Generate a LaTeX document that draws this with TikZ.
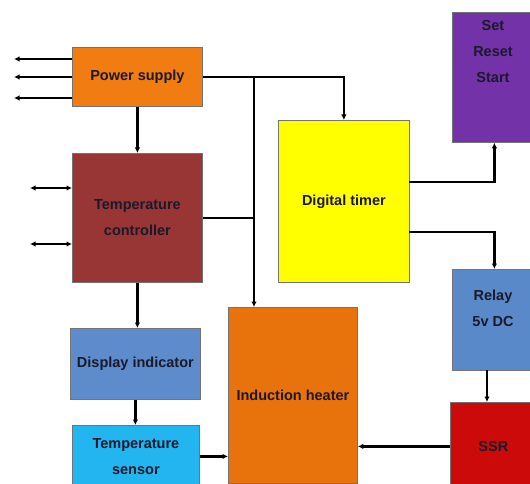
\documentclass[tikz,border=0pt]{standalone}
\usepackage{fontspec}
\setmainfont{Liberation Sans}
\usetikzlibrary{arrows.meta}
\definecolor{psorange}{HTML}{F07C12}
\definecolor{tcred}{HTML}{983636}
\definecolor{diblue}{HTML}{5E8BCB}
\definecolor{tscyan}{HTML}{22B5F0}
\definecolor{ihorange}{HTML}{E8720C}
\definecolor{dtyellow}{HTML}{FFFF00}
\definecolor{srspurple}{HTML}{7332A8}
\definecolor{relayblue}{HTML}{5A89C9}
\definecolor{ssrred}{HTML}{CC0A0A}
\definecolor{txt}{HTML}{1A1A2A}
\begin{document}
\begin{tikzpicture}[x=1pt,y=-1pt,
  box/.style={draw=black!55, line width=0.8pt, anchor=north west, inner sep=0pt,
    font=\fontsize{14.5}{26}\selectfont\bfseries, text=txt, align=center},
  lbl/.style={inner sep=0pt, font=\fontsize{14.5}{26}\selectfont\bfseries, text=txt, align=center},
  conn/.style={line width=2.2pt, -{Latex[length=5.5pt,width=5.5pt]}},
  dconn/.style={line width=2.2pt, {Latex[length=5.5pt,width=5.5pt]}-{Latex[length=5.5pt,width=5.5pt]}},
  plain/.style={line width=2.2pt}]
\useasboundingbox (0,0) rectangle (530,484);
\clip (0,0) rectangle (530,484);
\fill[white] (0,0) rectangle (530,484);

\node[box, fill=psorange, minimum width=130pt, minimum height=59pt] (ps) at (72,47) {Power supply};
\node[box, fill=tcred, minimum width=130pt, minimum height=129pt] (tc) at (72,153) {Temperature\\controller};
\node[box, fill=diblue, minimum width=130pt, minimum height=71pt] (di) at (70,328) {Display indicator};
\node[box, fill=tscyan, minimum width=127pt, minimum height=62pt] (ts) at (72,425) {Temperature\\sensor};
\node[box, fill=ihorange, minimum width=129pt, minimum height=176pt] (ih) at (228,307) {Induction heater};
\node[box, fill=dtyellow, minimum width=131pt, minimum height=162pt] (dt) at (278,120) {Digital timer};
\node[box, fill=srspurple, minimum width=84pt, minimum height=130pt] (srs) at (452,12) {};
\node[lbl] (srst) at (493,52) {Set\\Reset\\Start};
\node[box, fill=relayblue, minimum width=84pt, minimum height=101pt] (relay) at (452,269) {};
\node[lbl] (relayt) at (493,308) {Relay\\5v DC};
\node[box, fill=ssrred, minimum width=86pt, minimum height=88pt] (ssr) at (450,402) {SSR};

\coordinate (p1) at (14,59);
\coordinate (p2) at (14,77);
\coordinate (p3) at (14,98);
\coordinate (t1) at (30,188);
\coordinate (t2) at (30,244);
\coordinate (j) at (254,76.5);
\coordinate (a) at (409,182);
\coordinate (b) at (409,232);
\coordinate (r) at (487,370);

\draw[conn] (ps.west |- p1) -- (p1);
\draw[conn] (ps.west |- p2) -- (p2);
\draw[conn] (ps.west |- p3) -- (p3);
\draw[dconn] (tc.west |- t1) -- (t1);
\draw[dconn] (tc.west |- t2) -- (t2);

\draw[conn] (ps.east) -| (dt.north);
\draw[conn] (j) -- (j |- ih.north);
\draw[plain] (tc.east) -- (tc.east -| j);
\draw[conn] (ps.south) -- (tc.north);
\draw[conn] (tc.south) -- (tc.south |- di.north);
\draw[conn] (di.south) -- (di.south |- ts.north);
\draw[conn] (ts.east) -- (ts.east -| ih.west);
\draw[conn] (ssr.west) -- (ssr.west -| ih.east);
\draw[conn] (r) -- (r |- ssr.north);
\draw[conn] (a) -| (srs.south);
\draw[conn] (b) -| (relay.north);
\end{tikzpicture}
\end{document}
